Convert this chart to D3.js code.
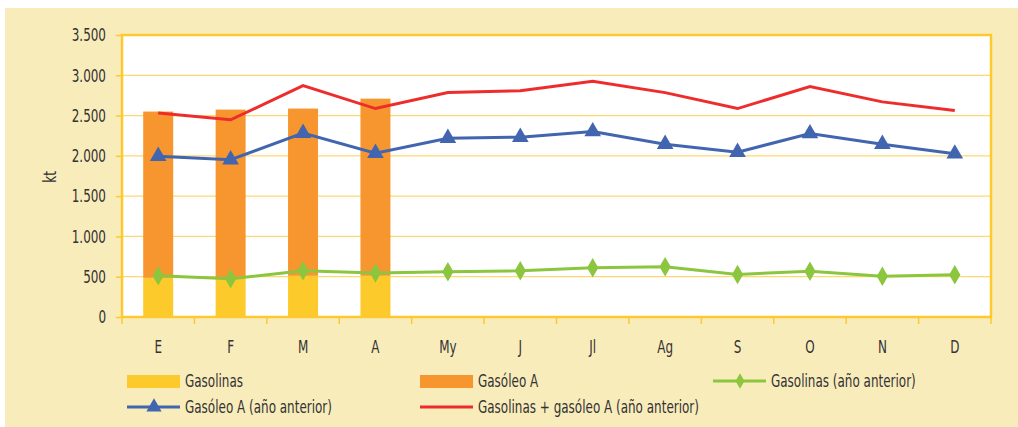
<!DOCTYPE html>
<html>
<head>
<meta charset="utf-8">
<script src="https://cdn.jsdelivr.net/npm/d3@7"></script>
<style>
  body { margin: 0; background: #fff; }
  svg { display: block; }
  text { font-family: "DejaVu Sans Condensed", "DejaVu Sans", sans-serif; fill: #333; }
</style>
</head>
<body>
<svg id="chart" width="1018" height="427"></svg>
<script>
const months = ["E", "F", "M", "A", "My", "J", "Jl", "Ag", "S", "O", "N", "D"];
const yTicks = [0, 500, 1000, 1500, 2000, 2500, 3000, 3500];

// current year (only Jan-Apr)
const gasolinas = [486, 479, 511, 511];
const gasoleoA = [2064, 2095, 2076, 2199];

// previous year
const gasolinasPrev = [511, 474, 573, 545, 561, 573, 610, 623, 528, 569, 507, 524];
const gasoleoPrev = [1996, 1952, 2282, 2033, 2219, 2232, 2302, 2145, 2046, 2277, 2145, 2026];
const totalPrev = [2533, 2447, 2871, 2587, 2785, 2809, 2925, 2785, 2587, 2859, 2670, 2562];

// narrow look of the original typeface
const squeeze = 0.74;

const svg = d3.select("#chart");

svg.append("rect")
    .attr("x", 5)
    .attr("y", 8)
    .attr("width", 1013)
    .attr("height", 419)
    .attr("fill", "#f9ecbb");

const plotLeft = 122, plotRight = 991, plotTop = 35, plotBottom = 317;

const x = d3.scaleBand()
    .domain(months)
    .range([plotLeft, plotRight]);

const y = d3.scaleLinear()
    .domain([0, 3500])
    .range([plotBottom, plotTop]);

svg.append("rect")
    .attr("x", plotLeft)
    .attr("y", plotTop)
    .attr("width", plotRight - plotLeft)
    .attr("height", plotBottom - plotTop)
    .attr("fill", "#fff");

// grid
svg.append("g")
    .selectAll("line")
    .data(yTicks.filter(d => d > 0 && d < 3500))
    .join("line")
      .attr("x1", plotLeft)
      .attr("x2", plotRight)
      .attr("y1", d => y(d))
      .attr("y2", d => y(d))
      .attr("stroke", "#fdd86c")
      .attr("stroke-width", 1.2);

// bars
const barW = 30;
const bars = svg.append("g");
bars.selectAll(".gas")
    .data(gasolinas)
    .join("rect")
      .attr("class", "gas")
      .attr("x", (d, i) => x(months[i]) + x.bandwidth() / 2 - barW / 2)
      .attr("y", d => y(d))
      .attr("width", barW)
      .attr("height", d => y(0) - y(d))
      .attr("fill", "#fdca2c");
bars.selectAll(".gasoleo")
    .data(gasoleoA)
    .join("rect")
      .attr("class", "gasoleo")
      .attr("x", (d, i) => x(months[i]) + x.bandwidth() / 2 - barW / 2)
      .attr("y", (d, i) => y(d + gasolinas[i]))
      .attr("width", barW)
      .attr("height", d => y(0) - y(d))
      .attr("fill", "#f7962f");

// frame
svg.append("rect")
    .attr("x", plotLeft)
    .attr("y", plotTop)
    .attr("width", plotRight - plotLeft)
    .attr("height", plotBottom - plotTop)
    .attr("fill", "none")
    .attr("stroke", "#fec930")
    .attr("stroke-width", 2.5);

// y axis
const yAxis = svg.append("g")
    .attr("transform", `translate(${plotLeft},0)`)
    .call(d3.axisLeft(y).tickValues(yTicks).tickSize(6).tickPadding(10)
      .tickFormat(d => d3.format(",")(d).replace(/,/g, ".")));
yAxis.select(".domain").remove();
yAxis.selectAll("line").attr("stroke", "#fec930").attr("stroke-width", 1.5);
yAxis.selectAll("text")
    .attr("x", -16 / squeeze)
    .attr("transform", `scale(${squeeze},1)`)
    .attr("font-size", 18)
    .attr("fill", "#333");

// x axis
const xAxis = svg.append("g")
    .attr("transform", `translate(0,${plotBottom})`)
    .call(d3.axisBottom(x).tickSize(0).tickPadding(23));
xAxis.select(".domain").remove();
xAxis.selectAll("text")
    .attr("transform", `scale(${squeeze},1)`)
    .attr("font-size", 18)
    .attr("fill", "#333");

svg.append("g")
    .selectAll("line")
    .data(months.concat(["end"]))
    .join("line")
      .attr("x1", (d, i) => plotLeft + i * x.step())
      .attr("x2", (d, i) => plotLeft + i * x.step())
      .attr("y1", plotBottom)
      .attr("y2", plotBottom + 7)
      .attr("stroke", "#fec930")
      .attr("stroke-width", 1.5);

svg.append("text")
    .attr("transform", `translate(56,177) rotate(-90) scale(${squeeze},1)`)
    .attr("text-anchor", "middle")
    .attr("font-size", 18)
    .text("kt");

// lines
const cx = (d, i) => x(months[i]) + x.bandwidth() / 2;
const line = d3.line().x(cx).y(d => y(d));

const series = [
  {values: gasolinasPrev, color: "#8cc63f", marker: "diamond"},
  {values: gasoleoPrev, color: "#4265b0", marker: "triangle"},
  {values: totalPrev, color: "#ee2c2c", marker: null}
];

series.forEach(s => {
  svg.append("path")
      .datum(s.values)
      .attr("d", line)
      .attr("fill", "none")
      .attr("stroke", s.color)
      .attr("stroke-width", 3);
  if (s.marker) {
    const sym = s.marker === "diamond"
      ? d3.symbol(d3.symbolDiamond, 110)
      : d3.symbol(d3.symbolTriangle, 120);
    svg.append("g")
        .selectAll("path")
        .data(s.values)
        .join("path")
          .attr("transform", (d, i) => `translate(${cx(d, i)},${y(d)})`)
          .attr("d", sym)
          .attr("fill", s.color);
  }
});

// legend
const legendItems = [
  {label: "Gasolinas", type: "rect", color: "#fdca2c", x: 127, y: 381},
  {label: "Gasóleo A", type: "rect", color: "#f7962f", x: 420, y: 381},
  {label: "Gasolinas (año anterior)", type: "line", color: "#8cc63f", marker: "diamond", x: 713, y: 381},
  {label: "Gasóleo A (año anterior)", type: "line", color: "#4265b0", marker: "triangle", x: 127, y: 407},
  {label: "Gasolinas + gasóleo A (año anterior)", type: "line", color: "#ee2c2c", marker: null, x: 420, y: 407}
];

const legend = svg.append("g")
    .selectAll("g")
    .data(legendItems)
    .join("g")
      .attr("transform", d => `translate(${d.x},${d.y})`);

legend.filter(d => d.type === "rect")
  .append("rect")
    .attr("x", 0)
    .attr("y", -6)
    .attr("width", 53)
    .attr("height", 13)
    .attr("fill", d => d.color);

legend.filter(d => d.type === "line")
  .append("line")
    .attr("x1", 0)
    .attr("x2", 53)
    .attr("y1", 0)
    .attr("y2", 0)
    .attr("stroke", d => d.color)
    .attr("stroke-width", 3);

legend.filter(d => d.marker)
  .append("path")
    .attr("transform", "translate(27,0)")
    .attr("d", d => d.marker === "diamond"
      ? d3.symbol(d3.symbolDiamond, 70)()
      : d3.symbol(d3.symbolTriangle, 100)())
    .attr("fill", d => d.color);

legend.append("text")
    .attr("transform", `translate(58,0) scale(${squeeze},1)`)
    .attr("dy", "0.35em")
    .attr("font-size", 18)
    .text(d => d.label);
</script>
</body>
</html>
